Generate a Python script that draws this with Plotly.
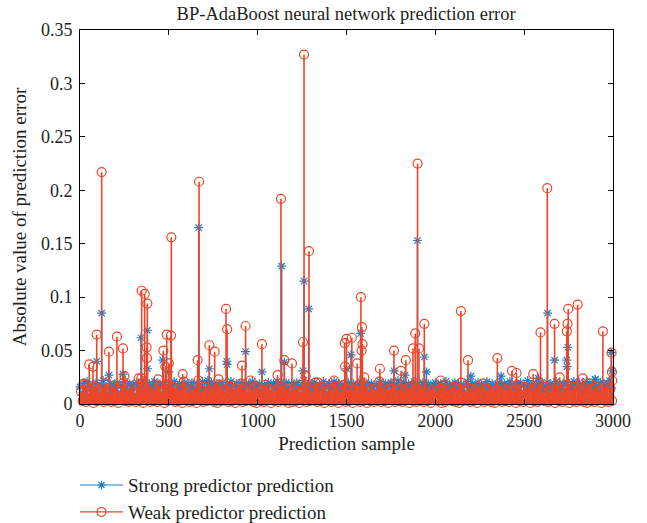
import plotly.graph_objects as go

# ---------------- data ----------------
# dense baseline samples (every 10th sample shown), values read approximately
weak_base_idx = list(range(5, 3000, 10))
weak_base_val = [
    0.012, 0.003, 0.018, 0.002, 0.009, 0.004, 0.013, 0.001, 0.016, 0.003, 0.011, 0.005, 0.015, 0.002, 0.019, 0.004, 0.010, 0.002, 0.017, 0.003,
    0.014, 0.001, 0.012, 0.004, 0.020, 0.003, 0.013, 0.002, 0.015, 0.005, 0.011, 0.002, 0.016, 0.003, 0.024, 0.001, 0.014, 0.004, 0.012, 0.002,
    0.015, 0.003, 0.013, 0.002, 0.017, 0.004, 0.012, 0.001, 0.018, 0.003, 0.011, 0.005, 0.016, 0.002, 0.014, 0.003, 0.013, 0.001, 0.021, 0.004,
    0.011, 0.002, 0.013, 0.003, 0.015, 0.001, 0.022, 0.004, 0.012, 0.002, 0.016, 0.003, 0.013, 0.005, 0.015, 0.002, 0.014, 0.001, 0.018, 0.003,
    0.013, 0.004, 0.012, 0.002, 0.016, 0.003, 0.014, 0.001, 0.015, 0.004, 0.019, 0.002, 0.013, 0.003, 0.011, 0.005, 0.012, 0.002, 0.016, 0.001,
    0.015, 0.003, 0.013, 0.002, 0.018, 0.004, 0.014, 0.001, 0.012, 0.003, 0.013, 0.002, 0.016, 0.004, 0.012, 0.003, 0.014, 0.001, 0.011, 0.002,
    0.013, 0.003, 0.017, 0.001, 0.011, 0.004, 0.014, 0.002, 0.015, 0.003, 0.012, 0.005, 0.020, 0.002, 0.014, 0.003, 0.016, 0.001, 0.012, 0.004,
    0.014, 0.002, 0.013, 0.003, 0.016, 0.001, 0.012, 0.004, 0.018, 0.002, 0.013, 0.003, 0.015, 0.001, 0.013, 0.004, 0.017, 0.002, 0.012, 0.003,
    0.016, 0.001, 0.012, 0.003, 0.014, 0.002, 0.013, 0.004, 0.021, 0.002, 0.015, 0.003, 0.013, 0.001, 0.014, 0.004, 0.019, 0.002, 0.013, 0.003,
    0.014, 0.002, 0.012, 0.004, 0.015, 0.001, 0.016, 0.003, 0.012, 0.002, 0.014, 0.005, 0.017, 0.002, 0.012, 0.003, 0.015, 0.001, 0.013, 0.004,
    0.012, 0.003, 0.014, 0.001, 0.018, 0.002, 0.013, 0.004, 0.015, 0.003, 0.016, 0.002, 0.014, 0.001, 0.020, 0.003, 0.012, 0.004, 0.015, 0.002,
    0.014, 0.003, 0.013, 0.001, 0.016, 0.004, 0.019, 0.002, 0.014, 0.003, 0.013, 0.002, 0.015, 0.001, 0.013, 0.004, 0.017, 0.002, 0.014, 0.003,
    0.013, 0.002, 0.015, 0.004, 0.012, 0.001, 0.018, 0.003, 0.013, 0.002, 0.016, 0.004, 0.014, 0.001, 0.012, 0.003, 0.015, 0.002, 0.020, 0.004,
    0.011, 0.003, 0.016, 0.002, 0.012, 0.004, 0.014, 0.001, 0.017, 0.003, 0.012, 0.002, 0.015, 0.004, 0.018, 0.001, 0.013, 0.003, 0.016, 0.002,
    0.014, 0.004, 0.013, 0.002, 0.015, 0.001, 0.019, 0.003, 0.014, 0.002, 0.016, 0.004, 0.013, 0.001, 0.015, 0.003, 0.017, 0.002, 0.014, 0.003,
]

strong_base_idx = list(range(0, 3000, 10))
strong_base_val = [
    0.016, 0.008, 0.019, 0.012, 0.021, 0.006, 0.015, 0.018, 0.010, 0.020, 0.014, 0.007, 0.017, 0.022, 0.011, 0.016, 0.009, 0.019, 0.013, 0.018,
    0.015, 0.020, 0.008, 0.017, 0.012, 0.021, 0.016, 0.010, 0.019, 0.014, 0.018, 0.006, 0.020, 0.015, 0.011, 0.017, 0.022, 0.009, 0.016, 0.019,
    0.013, 0.018, 0.021, 0.010, 0.016, 0.019, 0.008, 0.017, 0.020, 0.014, 0.011, 0.018, 0.015, 0.021, 0.009, 0.016, 0.019, 0.012, 0.017, 0.020,
    0.018, 0.011, 0.016, 0.020, 0.014, 0.008, 0.019, 0.017, 0.012, 0.021, 0.015, 0.010, 0.018, 0.016, 0.020, 0.007, 0.017, 0.019, 0.013, 0.016,
    0.020, 0.015, 0.009, 0.018, 0.016, 0.021, 0.012, 0.017, 0.019, 0.010, 0.016, 0.020, 0.014, 0.018, 0.008, 0.019, 0.015, 0.021, 0.011, 0.017,
    0.016, 0.019, 0.013, 0.010, 0.018, 0.015, 0.020, 0.009, 0.017, 0.019, 0.014, 0.021, 0.011, 0.016, 0.018, 0.012, 0.020, 0.015, 0.008, 0.019,
    0.017, 0.012, 0.020, 0.016, 0.009, 0.018, 0.022, 0.014, 0.017, 0.011, 0.019, 0.015, 0.020, 0.010, 0.016, 0.018, 0.013, 0.021, 0.017, 0.009,
    0.019, 0.014, 0.017, 0.021, 0.010, 0.016, 0.019, 0.012, 0.018, 0.015, 0.008, 0.020, 0.016, 0.013, 0.019, 0.017, 0.011, 0.018, 0.021, 0.014,
    0.016, 0.020, 0.011, 0.017, 0.019, 0.014, 0.009, 0.018, 0.016, 0.021, 0.012, 0.017, 0.019, 0.015, 0.010, 0.020, 0.016, 0.013, 0.018, 0.022,
    0.015, 0.018, 0.020, 0.012, 0.016, 0.019, 0.010, 0.017, 0.021, 0.014, 0.018, 0.009, 0.016, 0.020, 0.013, 0.017, 0.019, 0.011, 0.015, 0.018,
    0.020, 0.013, 0.017, 0.019, 0.011, 0.016, 0.021, 0.015, 0.018, 0.010, 0.017, 0.020, 0.014, 0.019, 0.012, 0.016, 0.018, 0.009, 0.021, 0.015,
    0.017, 0.019, 0.012, 0.016, 0.020, 0.014, 0.018, 0.010, 0.017, 0.021, 0.013, 0.016, 0.019, 0.011, 0.018, 0.015, 0.020, 0.012, 0.017, 0.019,
    0.014, 0.018, 0.021, 0.011, 0.016, 0.019, 0.013, 0.017, 0.020, 0.009, 0.018, 0.016, 0.022, 0.014, 0.017, 0.019, 0.012, 0.018, 0.015, 0.020,
    0.018, 0.012, 0.016, 0.020, 0.015, 0.019, 0.010, 0.017, 0.021, 0.013, 0.018, 0.016, 0.019, 0.011, 0.020, 0.017, 0.014, 0.018, 0.021, 0.015,
    0.016, 0.020, 0.013, 0.018, 0.017, 0.021, 0.012, 0.019, 0.015, 0.018, 0.023, 0.014, 0.017, 0.020, 0.011, 0.019, 0.016, 0.018, 0.022, 0.015,
]

# prominent errors (sample index, value)
weak_peak_idx = [20, 52, 73, 94, 122, 163, 208, 242, 250, 330, 347, 364, 375, 377, 379, 440, 469, 480, 488, 500,
                 512, 514, 578, 662, 670, 728, 758, 780, 822, 828, 912, 932, 960, 1024, 1112, 1131, 1150, 1193, 1255, 1261,
                 1270, 1289, 1340, 1430, 1490, 1492, 1500, 1530, 1560, 1581, 1585, 1587, 1590, 1600, 1688, 1767, 1807, 1834, 1874, 1887,
                 1900, 1908, 1938, 2030, 2144, 2184, 2349, 2431, 2457, 2551, 2592, 2630, 2671, 2700, 2740, 2744, 2748, 2801, 2830, 2943,
                 2992, 2994, 2996]
weak_peak_val = [0.019, 0.037, 0.035, 0.065, 0.217, 0.049, 0.063, 0.052, 0.026, 0.024, 0.106, 0.103, 0.053, 0.043, 0.094, 0.023, 0.050, 0.035, 0.065, 0.038,
                 0.064, 0.156, 0.028, 0.041, 0.208, 0.055, 0.049, 0.023, 0.089, 0.070, 0.036, 0.073, 0.022, 0.056, 0.027, 0.192, 0.041, 0.038, 0.058, 0.327,
                 0.026, 0.143, 0.020, 0.022, 0.057, 0.035, 0.061, 0.062, 0.038, 0.100, 0.050, 0.072, 0.056, 0.025, 0.033, 0.050, 0.031, 0.041, 0.052, 0.066,
                 0.225, 0.052, 0.075, 0.022, 0.087, 0.041, 0.043, 0.031, 0.029, 0.028, 0.067, 0.202, 0.075, 0.025, 0.068, 0.075, 0.089, 0.093, 0.024, 0.068,
                 0.048, 0.030, 0.022]

strong_peak_idx = [94, 122, 163, 242, 343, 379, 380, 465, 500, 668, 720, 728, 826, 828, 932, 1024, 1135, 1150, 1255, 1261,
                   1287, 1500, 1525, 1579, 1767, 1830, 1899, 1938, 1950, 2200, 2370, 2580, 2632, 2671, 2740, 2742, 2745, 2900, 2990, 2995]
strong_peak_val = [0.040, 0.085, 0.027, 0.028, 0.062, 0.069, 0.033, 0.041, 0.030, 0.165, 0.022, 0.033, 0.040, 0.037, 0.049, 0.030, 0.129, 0.039, 0.031, 0.115,
                   0.089, 0.033, 0.046, 0.066, 0.031, 0.027, 0.153, 0.044, 0.030, 0.026, 0.026, 0.024, 0.085, 0.041, 0.041, 0.035, 0.053, 0.023, 0.048, 0.031]

x_ticks = [0, 500, 1000, 1500, 2000, 2500, 3000]
y_ticks = [0, 0.05, 0.1, 0.15, 0.2, 0.25, 0.3, 0.35]
y_tick_text = ["0", "0.05", "0.1", "0.15", "0.2", "0.25", "0.3", "0.35"]

title_text = "BP-AdaBoost neural network prediction error"
x_title = "Prediction sample"
y_title = "Absolute value of prediction error"
strong_name = "Strong predictor prediction"
weak_name = "Weak predictor prediction"

BLUE = "#1f7fcc"
RED = "#ee4527"
FONT = "Liberation Serif"
TXT = "#231f20"


def stems(idx, val):
    xs, ys = [], []
    for i, v in zip(idx, val):
        xs += [i, i, None]
        ys += [0, v, None]
    return xs, ys


fig = go.Figure()

s_idx = strong_base_idx + strong_peak_idx
s_val = strong_base_val + strong_peak_val
w_idx = weak_base_idx + weak_peak_idx
w_val = weak_base_val + weak_peak_val

# strong predictor: stems + asterisks
sx, sy = stems(s_idx, s_val)
fig.add_trace(go.Scatter(x=sx, y=sy, mode="lines", line=dict(color=BLUE, width=1.5),
                         showlegend=False, hoverinfo="skip", cliponaxis=False))
fig.add_trace(go.Scatter(x=s_idx, y=s_val, mode="markers",
                         marker=dict(symbol="asterisk-open", size=7.5, color=BLUE,
                                     line=dict(color=BLUE, width=1.2)),
                         showlegend=False, cliponaxis=False))

# weak predictor: dense base stems (drawn thicker as they overlap), peak stems, circles
bx, by = stems(weak_base_idx, weak_base_val)
fig.add_trace(go.Scatter(x=bx, y=by, mode="lines", line=dict(color=RED, width=3.4),
                         showlegend=False, hoverinfo="skip", cliponaxis=False))
px_, py_ = stems(weak_peak_idx, weak_peak_val)
fig.add_trace(go.Scatter(x=px_, y=py_, mode="lines", line=dict(color=RED, width=1.6),
                         showlegend=False, hoverinfo="skip", cliponaxis=False))
fig.add_trace(go.Scatter(x=w_idx, y=w_val, mode="markers",
                         marker=dict(symbol="circle-open", size=9, color=RED,
                                     line=dict(color=RED, width=1.2)),
                         showlegend=False, cliponaxis=False))

# legend entries
fig.add_trace(go.Scatter(x=[None], y=[None], mode="lines+markers", name=strong_name,
                         line=dict(color=BLUE, width=1.2),
                         marker=dict(symbol="asterisk-open", size=7, color=BLUE,
                                     line=dict(color=BLUE, width=1.2)),
                         legend="legend"))
fig.add_trace(go.Scatter(x=[None], y=[None], mode="lines+markers", name=weak_name,
                         line=dict(color=RED, width=1.2),
                         marker=dict(symbol="circle-open", size=9, color=RED,
                                     line=dict(color=RED, width=1.1)),
                         legend="legend2"))

axis_common = dict(showline=True, linecolor="black", linewidth=1, mirror="ticks",
                   ticks="inside", ticklen=5, tickcolor="black", tickwidth=1,
                   showgrid=False, zeroline=False, automargin=False,
                   tickfont=dict(family=FONT, size=18, color=TXT))

legend_common = dict(xanchor="left", yanchor="middle", bgcolor="rgba(0,0,0,0)",
                     itemwidth=43, font=dict(family=FONT, size=19, color=TXT))

fig.update_layout(
    width=647, height=523,
    margin=dict(l=80, r=34, t=30, b=119, autoexpand=False),
    paper_bgcolor="white", plot_bgcolor="white",
    font=dict(family=FONT, size=19, color=TXT),
    title=dict(text=title_text, x=0.535, xanchor="center", y=0.975, yanchor="middle",
               font=dict(family=FONT, size=18.5, color=TXT)),
    xaxis=dict(range=[0, 3000], tickvals=x_ticks, ticktext=[str(t) for t in x_ticks],
               title=dict(text=x_title, standoff=7, font=dict(family=FONT, size=19, color=TXT)), **axis_common),
    yaxis=dict(range=[0, 0.35], tickvals=y_ticks, ticktext=y_tick_text, ticklabelstandoff=3,
               title=dict(text=y_title, standoff=9, font=dict(family=FONT, size=19, color=TXT)), **axis_common),
    legend=dict(x=-0.0094, y=-0.217, **legend_common),
    legend2=dict(x=-0.0094, y=-0.289, **legend_common),
)

fig.write_html("out.html", config={"displayModeBar": False},
               post_script="document.body.style.margin='0';document.body.style.overflow='hidden';")
